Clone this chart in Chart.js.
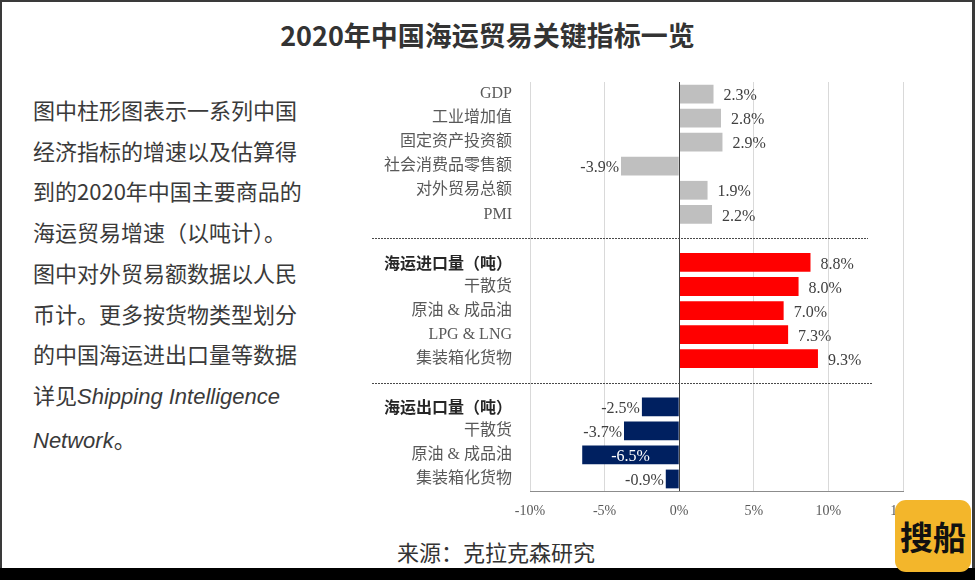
<!DOCTYPE html>
<html lang="zh">

<head>
    <meta charset="UTF-8">
    <title>2020年中国海运贸易关键指标一览</title>
    <script src="https://cdn.jsdelivr.net/npm/chart.js"></script>
    <style>
        body {
            margin: 0;
            width: 975px;
            height: 580px;
            position: relative;
            background: #fff;
            overflow: hidden;
            font-family: "Noto Sans CJK SC", "Noto Sans", sans-serif;
        }

        .frame {
            position: absolute;
            left: 0;
            top: 0;
            width: 970px;
            height: 566px;
            border-top: 2px solid #3a3a3a;
            border-left: 2px solid #3a3a3a;
            border-right: 3px solid #3a3a3a;
        }

        .band {
            position: absolute;
            left: 0;
            top: 568px;
            width: 975px;
            height: 12px;
            background: #000;
        }

        h1 {
            position: absolute;
            left: 0;
            width: 975px;
            top: 16px;
            margin: 0;
            text-align: center;
            font-size: 27px;
            line-height: 38px;
            font-weight: bold;
            color: #333;
        }

        .note {
            position: absolute;
            left: 33px;
            top: 89px;
            font-size: 22px;
            line-height: 40.7px;
            color: #3a3a3a;
        }

        .note i {
            font-family: "Liberation Sans", Arial, sans-serif;
        }

        .source {
            position: absolute;
            left: 397px;
            top: 536px;
            font-size: 22px;
            line-height: 30px;
            color: #333;
        }

        .logo {
            position: absolute;
            left: 895px;
            top: 500px;
            width: 76px;
            height: 72px;
            border-radius: 11px;
            background: #f3b62b;
            color: #111;
            font-size: 33px;
            font-weight: bold;
            line-height: 72px;
            text-align: center;
            z-index: 3;
        }

        #tradeChart {
            position: absolute;
            left: 370px;
            top: 70px;
        }
    </style>
</head>

<body>
    <div class="frame"></div>
    <div class="band"></div>
    <h1>2020年中国海运贸易关键指标一览</h1>
    <div class="note">
        图中柱形图表示一系列中国<br>
        经济指标的增速以及估算得<br>
        到的2020年中国主要商品的<br>
        海运贸易增速（以吨计）。<br>
        图中对外贸易额数据以人民<br>
        币计。更多按货物类型划分<br>
        的中国海运进出口量等数据<br>
        详见<i>Shipping Intelligence</i><br>
        <i>Network</i>。
    </div>
    <div class="source">来源：克拉克森研究</div>
    <div class="logo">搜船</div>
    <canvas id="tradeChart" width="563" height="451"></canvas>

    <script>
        // 宏观指标增速 (%)
        const macroLabels = ['GDP', '工业增加值', '固定资产投资额', '社会消费品零售额', '对外贸易总额', 'PMI'];
        const macroValues = [2.3, 2.8, 2.9, -3.9, 1.9, 2.2];

        // 海运进口量 (吨)
        const importLabels = ['海运进口量（吨）', '干散货', '原油 & 成品油', 'LPG & LNG', '集装箱化货物'];
        const importValues = [8.8, 8.0, 7.0, 7.3, 9.3];

        // 海运出口量 (吨)
        const exportLabels = ['海运出口量（吨）', '干散货', '原油 & 成品油', '集装箱化货物'];
        const exportValues = [-2.5, -3.7, -6.5, -0.9];

        const xTicks = [-10, -5, 0, 5, 10, 15];

        // one empty row between the groups, used for the dashed separators
        const labels = [...macroLabels, '', ...importLabels, '', ...exportLabels];
        const gapRows = [macroLabels.length, macroLabels.length + 1 + importLabels.length];
        const headerRows = [gapRows[0] + 1, gapRows[1] + 1];

        function place(values, start) {
            const arr = labels.map(() => null);
            values.forEach((v, i) => arr[start + i] = v);
            return arr;
        }

        const serif = '"Liberation Serif", "Times New Roman", "Noto Sans CJK SC", serif';

        const extras = {
            id: 'extras',
            afterDatasetsDraw(chart) {
                const { ctx, chartArea, scales } = chart;
                const x0 = Math.round(scales.x.getPixelForValue(0)) + 0.5;

                ctx.save();
                // zero line on top of the bars
                ctx.strokeStyle = '#404040';
                ctx.lineWidth = 1;
                ctx.beginPath();
                ctx.moveTo(x0, chartArea.top);
                ctx.lineTo(x0, chartArea.bottom);
                ctx.stroke();

                // value labels
                ctx.font = '16px ' + serif;
                ctx.textBaseline = 'middle';
                chart.data.datasets.forEach((ds, di) => {
                    chart.getDatasetMeta(di).data.forEach((bar, i) => {
                        const v = ds.data[i];
                        if (v === null) return;
                        const txt = v.toFixed(1) + '%';
                        const y = bar.y + 2;
                        if (v <= -6) {
                            ctx.fillStyle = '#fff';
                            ctx.textAlign = 'center';
                            ctx.fillText(txt, (bar.x + bar.base) / 2, y);
                        } else if (v < 0) {
                            ctx.fillStyle = '#404040';
                            ctx.textAlign = 'right';
                            ctx.fillText(txt, bar.x - 2, y);
                        } else {
                            ctx.fillStyle = '#404040';
                            ctx.textAlign = 'left';
                            ctx.fillText(txt, bar.x + 10, y);
                        }
                    });
                });

                // dashed separators between the groups
                ctx.strokeStyle = '#4a4a4a';
                ctx.setLineDash([2, 1]);
                gapRows.forEach((r, k) => {
                    const y = Math.round(scales.y.getPixelForValue(r)) + 0.5;
                    ctx.beginPath();
                    ctx.moveTo(2, y);
                    ctx.lineTo(chartArea.right - (k === 0 ? 35 : 30), y);
                    ctx.stroke();
                });
                ctx.restore();
            }
        };

        const ctx = document.getElementById('tradeChart').getContext('2d');
        new Chart(ctx, {
            type: 'bar',
            data: {
                labels: labels,
                datasets: [{
                    data: place(macroValues, 0),
                    backgroundColor: '#bfbfbf'
                }, {
                    data: place(importValues, gapRows[0] + 1),
                    backgroundColor: '#ff0000'
                }, {
                    data: place(exportValues, gapRows[1] + 1),
                    backgroundColor: '#002060'
                }]
            },
            options: {
                indexAxis: 'y',
                responsive: false,
                animation: false,
                layout: {
                    padding: { top: 12, right: 30, left: 0, bottom: 0 }
                },
                plugins: {
                    legend: { display: false },
                    tooltip: { enabled: false }
                },
                datasets: {
                    bar: {
                        grouped: false,
                        barPercentage: 0.78,
                        categoryPercentage: 1
                    }
                },
                scales: {
                    x: {
                        min: xTicks[0],
                        max: xTicks[xTicks.length - 1],
                        afterBuildTicks: (s) => { s.ticks = xTicks.map(v => ({ value: v })); },
                        afterFit: (s) => { s.height = 30; },
                        ticks: {
                            callback: (v) => v + '%',
                            padding: 12,
                            color: '#595959',
                            font: { family: serif, size: 14 }
                        },
                        grid: {
                            drawTicks: false,
                            color: (c) => c.tick && c.tick.value === 0 ? '#404040' : '#d9d9d9'
                        },
                        border: { color: '#8c8c8c' }
                    },
                    y: {
                        afterFit: (s) => {
                            s.width = 160;
                            s.paddingTop = 0;
                            s.paddingBottom = 0;
                        },
                        ticks: {
                            padding: 18,
                            autoSkip: false,
                            color: (c) => headerRows.includes(c.index) ? '#262626' : '#595959',
                            font: (c) => headerRows.includes(c.index)
                                ? { family: '"Noto Sans CJK SC", sans-serif', size: 16, weight: 'bold' }
                                : { family: serif, size: 16 }
                        },
                        grid: { display: false, drawTicks: false },
                        border: { display: false }
                    }
                }
            },
            plugins: [extras]
        });
    </script>
</body>

</html>
